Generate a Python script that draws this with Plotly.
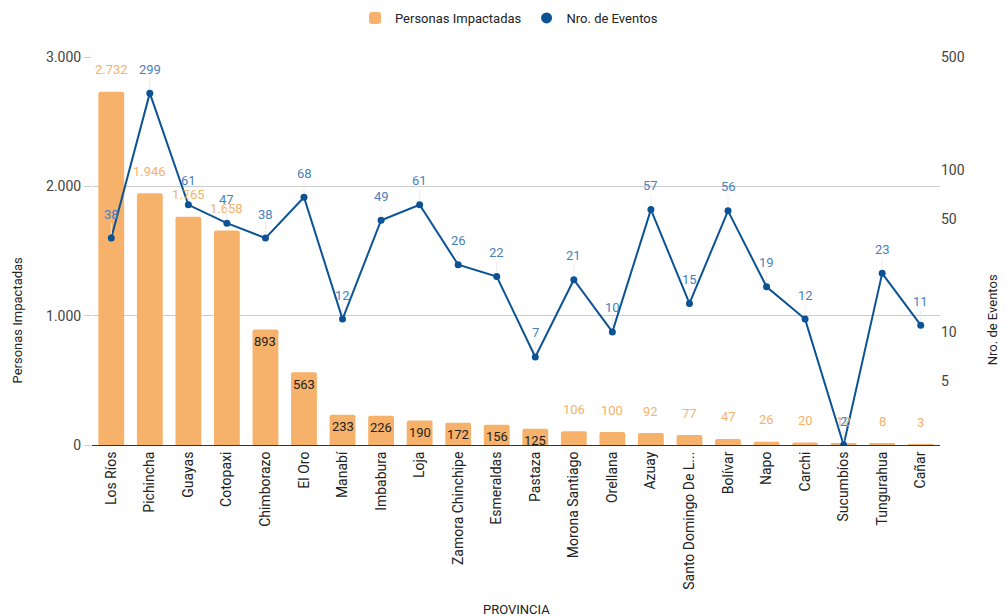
import math
import plotly.graph_objects as go

provincias = ["Los Ríos", "Pichincha", "Guayas", "Cotopaxi", "Chimborazo", "El Oro",
              "Manabí", "Imbabura", "Loja", "Zamora Chinchipe", "Esmeraldas", "Pastaza",
              "Morona Santiago", "Orellana", "Azuay", "Santo Domingo De L...", "Bolívar",
              "Napo", "Carchi", "Sucumbíos", "Tungurahua", "Cañar"]
personas = [2732, 1946, 1765, 1658, 893, 563, 233, 226, 190, 172, 156, 125,
            106, 100, 92, 77, 47, 26, 20, 12, 8, 3]
eventos = [38, 299, 61, 47, 38, 68, 12, 49, 61, 26, 22, 7,
           21, 10, 57, 15, 56, 19, 12, 2, 23, 11]
inside_labels = [False, False, False, False, True, True, True, True, True, True, True, True,
                 False, False, False, False, False, False, False, False, False, False]
left_ticks = [0, 1000, 2000, 3000]
right_ticks = [5, 10, 50, 100, 500]

BAR = "#f6b26b"
LINE = "#0b5394"
EVT_TXT = "#4a7fbd"
FONT = "Roboto"

def fmt(v):
    return f"{v:,}".replace(",", ".")

fig = go.Figure()
fig.add_trace(go.Bar(x=provincias, y=personas, name="Personas Impactadas",
                     marker=dict(color=BAR, line=dict(width=0), cornerradius=2),
                     yaxis="y"))
fig.add_trace(go.Scatter(x=provincias, y=eventos, name="Nro. de Eventos",
                         mode="lines+markers", line=dict(color=LINE, width=2),
                         marker=dict(color=LINE, size=7), yaxis="y2", showlegend=False))
fig.add_trace(go.Scatter(x=[None], y=[None], name="Nro. de Eventos", mode="markers",
                         marker=dict(color=LINE, size=11), yaxis="y2"))

annotations = []
for p, v, ins in zip(provincias, personas, inside_labels):
    if ins:
        annotations.append(dict(x=p, y=v, xref="x", yref="y", text=fmt(v), showarrow=False,
                                yanchor="middle", yshift=-12,
                                font=dict(family=FONT, size=13, color="#222222")))
    else:
        annotations.append(dict(x=p, y=v, xref="x", yref="y", text=fmt(v), showarrow=False,
                                yanchor="middle", yshift=22,
                                font=dict(family=FONT, size=13, color=BAR)))
for p, v in zip(provincias, eventos):
    annotations.append(dict(x=p, y=math.log10(v), xref="x", yref="y2", text=str(v),
                            showarrow=True, arrowhead=0, arrowwidth=1, arrowcolor="#ececec",
                            ax=0, ay=-24, standoff=4,
                            font=dict(family=FONT, size=13, color=EVT_TXT)))

annotations += [
    dict(x=-0.088, y=0.322, xref="paper", yref="paper", text="Personas Impactadas",
         xanchor="center", yanchor="middle",
         textangle=-90, showarrow=False, font=dict(family=FONT, size=13, color="#222222")),
    dict(x=1.0615, y=0.322, xref="paper", yref="paper", text="Nro. de Eventos",
         xanchor="center", yanchor="middle",
         textangle=-90, showarrow=False, font=dict(family=FONT, size=13, color="#222222")),
    dict(x=0.5, y=-0.425, xref="paper", yref="paper", text="PROVINCIA",
         xanchor="center", yanchor="middle",
         showarrow=False, font=dict(family=FONT, size=13, color="#222222")),
]

fig.update_layout(
    width=1006, height=616,
    margin=dict(l=84, r=74, t=49, b=179, autoexpand=False),
    paper_bgcolor="white", plot_bgcolor="white",
    separators=",.",
    font=dict(family=FONT, size=13, color="#444444"),
    bargap=0.33,
    showlegend=True,
    legend=dict(orientation="h", x=0.498, xanchor="center", xref="container",
                y=1 - 10 / 616, yanchor="middle", yref="container",
                itemwidth=30,
                font=dict(family=FONT, size=13, color="#222222")),
    xaxis=dict(showline=True, linecolor="#333333", linewidth=1, tickangle=-90,
               tickfont=dict(family=FONT, size=14, color="#222222"), ticks="",
               range=[-0.5, len(provincias) - 0.5], automargin=False),
    yaxis=dict(range=[0, 3000], tickvals=left_ticks, ticktext=[fmt(t) for t in left_ticks],
               showgrid=True, gridcolor="#cccccc", zeroline=False,
               ticks="outside", ticklen=7, tickcolor="#cccccc", automargin=False,
               tickfont=dict(family=FONT, size=14, color="#444444")),
    yaxis2=dict(type="log", range=[math.log10(2), math.log10(500)], overlaying="y",
                side="right", tickvals=right_ticks, ticktext=[str(t) for t in right_ticks],
                showgrid=False, zeroline=False, ticks="", automargin=False,
                tickfont=dict(family=FONT, size=14, color="#444444")),
    annotations=annotations,
)

fig.write_html("out.html")
